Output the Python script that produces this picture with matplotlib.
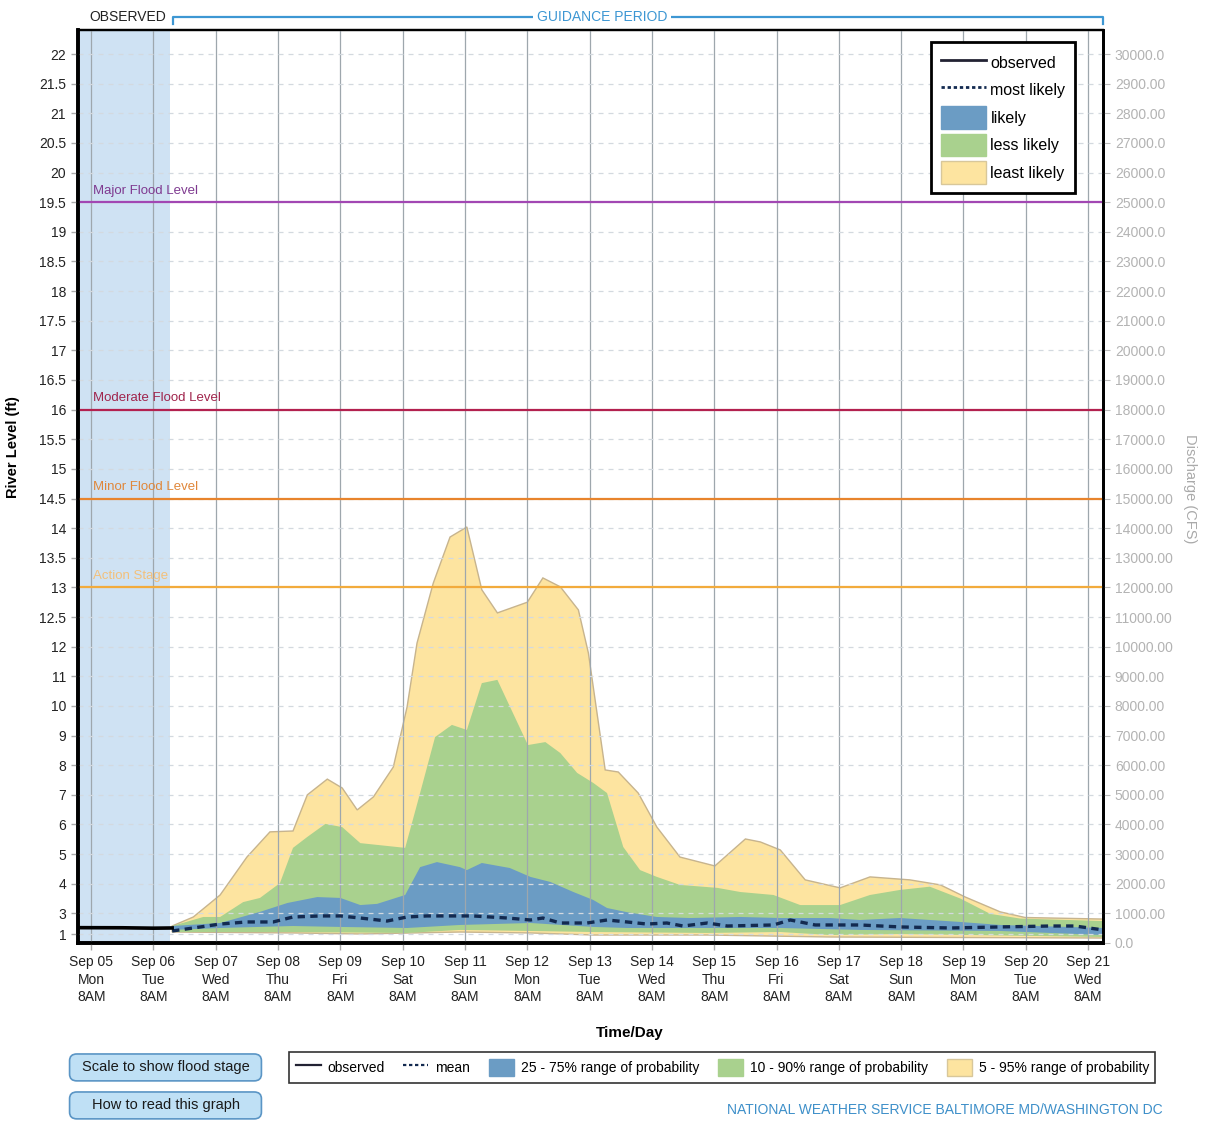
import numpy as np
import matplotlib
matplotlib.use('Agg')
import matplotlib.pyplot as plt
from matplotlib.lines import Line2D
from matplotlib.patches import Patch, FancyBboxPatch

plt.rcParams['font.family'] = ['Liberation Sans', 'DejaVu Sans']

# time axis: days after Sep 05 8AM
day_labels = ['Sep 05\nMon\n8AM', 'Sep 06\nTue\n8AM', 'Sep 07\nWed\n8AM', 'Sep 08\nThu\n8AM',
              'Sep 09\nFri\n8AM', 'Sep 10\nSat\n8AM', 'Sep 11\nSun\n8AM', 'Sep 12\nMon\n8AM',
              'Sep 13\nTue\n8AM', 'Sep 14\nWed\n8AM', 'Sep 15\nThu\n8AM', 'Sep 16\nFri\n8AM',
              'Sep 17\nSat\n8AM', 'Sep 18\nSun\n8AM', 'Sep 19\nMon\n8AM', 'Sep 20\nTue\n8AM',
              'Sep 21\nWed\n8AM']

# river stage axis (ft) - the chart uses a broken scale
stage_ticks = [1, 3, 4, 5, 6, 7, 8, 9, 10, 11, 12, 12.5, 13, 13.5, 14, 14.5, 15, 15.5, 16,
               16.5, 17, 17.5, 18, 18.5, 19, 19.5, 20, 20.5, 21, 21.5, 22]
cfs_ticks = list(range(0, 30001, 1000))
cfs_labels = ['0.0'] + ['%d.00' % v for v in range(1000, 17000, 1000)] + \
             ['%d.0' % v for v in range(17000, 28000, 1000)] + ['2800.00', '2900.00', '30000.0']

flood_names = ['Major Flood Level', 'Moderate Flood Level', 'Minor Flood Level', 'Action Stage']
flood_stage = [19.5, 16, 14.5, 13]
flood_colors = ['#a247b3', '#b3214f', '#e8842c', '#f2ab3c']
flood_text_colors = ['#7f3a90', '#a0244c', '#e0873a', '#f3c07a']

obs_t = [-0.21, 0.5, 1.0, 1.3]
obs_stage = [1.62, 1.61, 1.57, 1.59]

mean_t = [1.30, 1.64, 2.07, 2.50, 2.92, 3.24, 3.68, 4.00, 4.32, 4.75, 5.07, 5.39, 6.13, 6.68,
          7.05, 7.25, 7.53, 7.96, 8.28, 8.60, 8.92, 9.24, 9.50, 9.89, 10.21, 10.95, 11.22,
          11.62, 12.34, 12.98, 13.79, 14.59, 15.39, 15.79, 16.24]
mean_stage = [1.30, 1.59, 1.97, 2.17, 2.17, 2.65, 2.75, 2.75, 2.55, 2.26, 2.65, 2.75, 2.75, 2.55,
              2.36, 2.55, 2.07, 2.07, 2.36, 2.17, 1.97, 2.07, 1.78, 2.07, 1.78, 1.88, 2.36,
              1.88, 1.88, 1.69, 1.59, 1.69, 1.78, 1.78, 1.40]

p95_t = [1.30, 1.64, 2.07, 2.50, 2.87, 3.24, 3.47, 3.79, 4.03, 4.27, 4.53, 4.85, 5.07, 5.23,
         5.49, 5.76, 6.03, 6.27, 6.52, 7.00, 7.25, 7.53, 7.82, 7.98, 8.25, 8.46, 8.78, 9.08,
         9.45, 10.01, 10.50, 10.74, 11.06, 11.46, 12.02, 12.50, 13.14, 13.63, 14.03, 14.59,
         14.99, 16.24]
p95 = [1.78, 2.65, 3.62, 4.90, 5.75, 5.78, 7.00, 7.53, 7.23, 6.49, 6.93, 7.94, 9.96, 12.06,
       13.07, 13.85, 14.02, 12.96, 12.57, 12.75, 13.16, 13.01, 12.62, 11.79, 7.84, 7.77, 7.06,
       5.91, 4.90, 4.60, 5.51, 5.41, 5.14, 4.13, 3.86, 4.23, 4.13, 3.96, 3.55, 3.05, 2.60, 2.45]

p90_t = [1.30, 1.80, 2.07, 2.44, 2.71, 3.03, 3.24, 3.47, 3.76, 4.03, 4.32, 5.04, 5.25, 5.52,
         5.79, 6.03, 6.27, 6.52, 7.01, 7.29, 7.53, 7.80, 8.06, 8.28, 8.54, 8.81, 9.08, 9.45,
         10.05, 10.42, 10.95, 11.38, 12.02, 12.50, 12.98, 13.46, 13.95, 14.43, 14.91, 16.24]
p90 = [1.78, 2.65, 2.65, 3.38, 3.52, 4.02, 5.21, 5.58, 6.02, 5.91, 5.37, 5.21, 6.83, 8.95,
       9.36, 9.19, 10.77, 10.88, 8.68, 8.78, 8.41, 7.74, 7.40, 7.06, 5.24, 4.46, 4.23, 3.96,
       3.86, 3.72, 3.62, 3.28, 3.28, 3.62, 3.79, 3.90, 3.50, 2.95, 2.50, 2.26]

p75_t = [1.30, 2.07, 2.71, 3.15, 3.63, 4.00, 4.32, 4.59, 5.04, 5.28, 5.55, 5.92, 6.03, 6.27,
         6.72, 7.05, 7.37, 7.74, 8.06, 8.28, 8.60, 9.08, 9.61, 10.42, 11.06, 11.86, 12.34,
         12.98, 13.95, 14.59, 16.24]
p75 = [1.78, 2.07, 3.05, 3.35, 3.55, 3.52, 3.28, 3.32, 3.62, 4.56, 4.73, 4.56, 4.46, 4.70,
       4.53, 4.23, 4.06, 3.72, 3.45, 3.18, 3.04, 2.65, 2.55, 2.65, 2.55, 2.55, 2.36, 2.55,
       2.17, 1.88, 1.59]

p25_t = [1.30, 2.07, 3.24, 4.00, 5.07, 5.92, 7.05, 8.06, 8.60, 11.06, 12.34, 14.59, 16.24]
p25 = [1.40, 1.59, 1.78, 1.69, 1.59, 1.88, 2.07, 1.69, 1.59, 1.59, 1.40, 1.30, 0.91]

p10_t = [1.30, 3.24, 5.07, 5.92, 7.05, 8.06, 9.89, 11.06, 11.86, 12.98, 16.24]
p10 = [1.20, 1.20, 1.11, 1.40, 1.30, 1.20, 1.11, 1.20, 0.91, 1.01, 0.72]

p5_t = [1.30, 3.24, 4.32, 5.92, 7.05, 8.06, 9.89, 11.86, 16.24]
p5 = [1.20, 1.11, 1.01, 1.20, 1.11, 0.91, 0.91, 0.72, 0.62]

# broken stage scale: stage -> position (position unit = 1000 cfs on right axis)
st_k = np.array([1.0, 3.0, 12.0, 22.0])
ps_k = np.array([0.3, 1.0, 10.0, 30.0])


def fwd(s):
    s = np.asarray(s, dtype=float)
    out = np.interp(s, st_k, ps_k)
    lo = ps_k[0] + (s - st_k[0]) * (ps_k[1] - ps_k[0]) / (st_k[1] - st_k[0])
    hi = ps_k[-1] + (s - st_k[-1]) * (ps_k[-1] - ps_k[-2]) / (st_k[-1] - st_k[-2])
    return np.where(s < st_k[0], lo, np.where(s > st_k[-1], hi, out))


def inv(p):
    p = np.asarray(p, dtype=float)
    out = np.interp(p, ps_k, st_k)
    lo = st_k[0] + (p - ps_k[0]) * (st_k[1] - st_k[0]) / (ps_k[1] - ps_k[0])
    hi = st_k[-1] + (p - ps_k[-1]) * (st_k[-1] - st_k[-2]) / (ps_k[-1] - ps_k[-2])
    return np.where(p < ps_k[0], lo, np.where(p > ps_k[-1], hi, out))


top_pos = 30.81
x_left, x_right = -0.21, 16.24

fig = plt.figure(figsize=(12.12, 11.21), dpi=100)
ax = fig.add_axes([0.0644, 0.1588, 0.8457, 0.8144])
ax.set_yscale('function', functions=(fwd, inv))
ax.set_ylim(float(inv(0.0)), float(inv(top_pos)))
ax.set_xlim(x_left, x_right)

# observed period shading
ax.axvspan(x_left, 1.27, color='#cfe2f3', zorder=0.3, lw=0)

# probability bands
ax.fill(np.concatenate([p95_t, p5_t[::-1]]), np.concatenate([p95, p5[::-1]]),
        facecolor='#fde4a0', edgecolor='#c7b48e', lw=1.0, zorder=1)
ax.fill(np.concatenate([p90_t, p10_t[::-1]]), np.concatenate([p90, p10[::-1]]),
        facecolor='#a9d18e', edgecolor='none', zorder=1.1)
ax.fill(np.concatenate([p75_t, p25_t[::-1]]), np.concatenate([p75, p25[::-1]]),
        facecolor='#6b9cc4', edgecolor='none', zorder=1.2)

ax.plot(mean_t, mean_stage, color='#132a50', lw=2.4, linestyle=(0, (2.2, 1.6)), zorder=4)
ax.plot(obs_t, obs_stage, color='black', lw=2.6, zorder=4)

# flood levels
for name, s, c, tc in zip(flood_names, flood_stage, flood_colors, flood_text_colors):
    ax.axhline(s, color=c, lw=1.6, zorder=3)
    ax.annotate(name, xy=(0.03, s), xytext=(0, 4), textcoords='offset points',
                ha='left', va='bottom', color=tc, fontsize=9.5, zorder=3)

# grid
ax.set_axisbelow(False)
ax.set_xticks(range(17))
ax.set_xticklabels(day_labels, fontsize=10, linespacing=1.3, color='#222222')
ax.set_yticks(stage_ticks)
ax.set_yticklabels(['%g' % v for v in stage_ticks], fontsize=10, color='#222222')
ax.minorticks_off()
ax.grid(axis='x', color='#9ea7ad', lw=0.9)
ax.grid(axis='y', color='#d3d9df', lw=0.9, linestyle=(0, (4, 4)))
ax.tick_params(axis='both', length=5, color='#aaaaaa', width=1)
ax.tick_params(axis='x', pad=4)

ax2 = ax.twinx()
ax2.set_ylim(0, top_pos * 1000)
ax2.set_yticks(cfs_ticks)
ax2.set_yticklabels(cfs_labels, fontsize=10, color='#b3b3b3')
ax2.tick_params(axis='y', length=5, color='#bbbbbb')

for a in (ax, ax2):
    a.spines['left'].set_linewidth(2.6)
    a.spines['bottom'].set_linewidth(2.6)
    a.spines['top'].set_linewidth(1.6)
    a.spines['right'].set_linewidth(2.0)
    for sp in a.spines.values():
        sp.set_color('black')

ax.set_ylabel('River Level (ft)', fontsize=10.5, fontweight='bold')
ax.yaxis.set_label_coords(-0.057, 0.543)
ax2.set_ylabel('Discharge (CFS)', fontsize=10.5, color='#aaaaaa', rotation=270)
ax2.yaxis.set_label_coords(1.092, 0.498)
fig.text(630 / 1212, 1 - 1033 / 1121, 'Time/Day', ha='center', va='center',
         fontsize=11, fontweight='bold')

# observed / guidance period bracket
trans = ax.get_xaxis_transform()
ax.plot([1.32, 1.32, x_right, x_right], [1.0066, 1.0142, 1.0142, 1.0066], color='#3d97d3',
        lw=1.6, transform=trans, clip_on=False)
ax.text(0.58, 1.0142, 'OBSERVED', transform=trans, ha='center', va='center',
        fontsize=10, color='#222222')
ax.text(8.2, 1.0142, 'GUIDANCE PERIOD', transform=trans, ha='center', va='center',
        fontsize=10, color='#3d97d3',
        bbox=dict(facecolor='white', edgecolor='none', pad=3))

# legend inside the plot
h_in = [Line2D([], [], color='#222233', lw=2),
        Line2D([], [], color='#132a50', lw=2, linestyle=(0, (1.2, 1.0))),
        Patch(facecolor='#6b9cc4', edgecolor='#6b9cc4'),
        Patch(facecolor='#a9d18e', edgecolor='#a9d18e'),
        Patch(facecolor='#fde4a0', edgecolor='#d8c79a')]
leg = ax.legend(h_in, ['observed', 'most likely', 'likely', 'less likely', 'least likely'],
                loc='upper right', bbox_to_anchor=(0.9727, 0.987), borderaxespad=0,
                fontsize=11.5, fancybox=False, edgecolor='black', framealpha=1,
                handlelength=2.8, handleheight=1.8, labelspacing=0.3, borderpad=0.6,
                handletextpad=0.3)
leg.get_frame().set_linewidth(2)
leg.set_zorder(10)

# bottom legend
h_out = [Line2D([], [], color='#222233', lw=1.6),
         Line2D([], [], color='#132a50', lw=1.6, linestyle=(0, (1.5, 1.2))),
         Patch(facecolor='#6b9cc4', edgecolor='#6b9cc4'),
         Patch(facecolor='#a9d18e', edgecolor='#a9d18e'),
         Patch(facecolor='#fde4a0', edgecolor='#d8c79a')]
leg2 = fig.legend(h_out, ['observed', 'mean', '25 - 75% range of probability',
                          '10 - 90% range of probability', '5 - 95% range of probability'],
                  loc='center', bbox_to_anchor=(0.596, 0.0477), ncol=5, fontsize=10,
                  fancybox=False, edgecolor='#333333', framealpha=1, handlelength=1.8,
                  handleheight=1.6, columnspacing=1.35, handletextpad=0.5, borderpad=0.45)
leg2.get_frame().set_linewidth(1.2)

# buttons
for yb, txt in [(1 - 1082 / 1121, 'Scale to show flood stage'),
                (1 - 1120 / 1121, 'How to read this graph')]:
    btn = FancyBboxPatch((72 / 1212, yb + 0.003), 187 / 1212, 0.020,
                         boxstyle='round,pad=0.002,rounding_size=0.006',
                         transform=fig.transFigure, facecolor='#bfe0f5',
                         edgecolor='#5a95c5', lw=1.2)
    fig.add_artist(btn)
    fig.text(166 / 1212, yb + 0.013, txt, ha='center', va='center', fontsize=10.5,
             color='#1a1a1a')

fig.text(0.959, 0.0095, 'NATIONAL WEATHER SERVICE BALTIMORE MD/WASHINGTON DC',
         ha='right', va='center', fontsize=10, color='#3d8fc9')

fig.savefig('out.png', dpi=100)
